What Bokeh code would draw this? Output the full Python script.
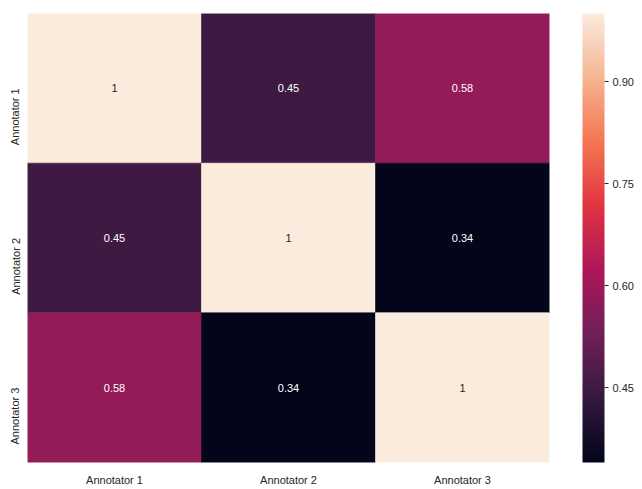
import math
from bokeh.plotting import figure
from bokeh.models import (ColumnDataSource, LinearColorMapper, ColorBar, FixedTicker,
                          PrintfTickFormatter, FactorRange)
from bokeh.core.properties import value
from bokeh.embed import file_html
from bokeh.resources import INLINE

# ---- data ----
annotators = ["Annotator 1", "Annotator 2", "Annotator 3"]
row_1 = [1.00, 0.45, 0.58]
row_2 = [0.45, 1.00, 0.34]
row_3 = [0.58, 0.34, 1.00]
matrix = [row_1, row_2, row_3]
cbar_ticks = [0.45, 0.60, 0.75, 0.90]

# ---- rocket colormap (seaborn) anchors ----
rocket_anchors = ["#03051a", "#35193e", "#701f57", "#ad1759", "#e13342",
                  "#f37651", "#f6b48f", "#faebdd"]


def hex2rgb(h):
    h = h.lstrip("#")
    return [int(h[i:i + 2], 16) for i in (0, 2, 4)]


def build_palette(anchors, n=256):
    rgbs = [hex2rgb(a) for a in anchors]
    k = len(rgbs) - 1
    out = []
    for i in range(n):
        t = i / (n - 1) * k
        j = min(int(t), k - 1)
        f = t - j
        c = [round(rgbs[j][m] + (rgbs[j + 1][m] - rgbs[j][m]) * f) for m in range(3)]
        out.append("#%02x%02x%02x" % tuple(c))
    return out


palette = build_palette(rocket_anchors)
flat = [v for r in matrix for v in r]
vmin, vmax = min(flat), max(flat)
mapper = LinearColorMapper(palette=palette, low=vmin, high=vmax)


def rel_lum(hexcol):
    rgb = [c / 255 for c in hex2rgb(hexcol)]
    rgb = [c / 12.92 if c <= 0.03928 else ((c + 0.055) / 1.055) ** 2.4 for c in rgb]
    return 0.2126 * rgb[0] + 0.7152 * rgb[1] + 0.0722 * rgb[2]


xs, ys, vals, labels, tcolors = [], [], [], [], []
for ri, row in enumerate(matrix):
    for ci, v in enumerate(row):
        xs.append(annotators[ci])
        ys.append(annotators[ri])
        vals.append(v)
        labels.append(format(v, ".2g"))
        idx = int(round((v - vmin) / (vmax - vmin) * (len(palette) - 1)))
        tcolors.append("#262626" if rel_lum(palette[idx]) > 0.408 else "#ffffff")

src = ColumnDataSource(dict(x=xs, y=ys, v=vals, label=labels, tcolor=tcolors))

FONT = "Liberation Sans"
TXT = "#262626"

p = figure(x_range=FactorRange(*annotators),
           y_range=FactorRange(*list(reversed(annotators))),
           frame_width=522, frame_height=449,
           min_border_left=19, min_border_top=13, min_border_right=86, min_border_bottom=0,
           output_backend="svg", toolbar_location=None)

cmap_field = {"field": "v", "transform": mapper}
p.rect(x="x", y="y", width=1, height=1, source=src,
       fill_color=cmap_field, line_color=cmap_field, line_width=0.6)
p.text(x="x", y="y", text="label", source=src, text_align="center",
       text_baseline="middle", text_color="tcolor",
       text_font=value(FONT), text_font_size="11px")

p.grid.visible = False
p.outline_line_color = None
for ax in (p.xaxis, p.yaxis):
    ax.axis_line_color = None
    ax.major_tick_line_color = None
    ax.minor_tick_line_color = None
    ax.major_label_text_font = FONT
    ax.major_label_text_font_size = "11px"
    ax.major_label_text_color = TXT
p.xaxis.major_label_standoff = 5
p.yaxis.major_label_standoff = 6
p.yaxis.major_label_orientation = math.pi / 2

cb = ColorBar(color_mapper=mapper, ticker=FixedTicker(ticks=cbar_ticks),
              formatter=PrintfTickFormatter(format="%.2f"),
              width=22, padding=0, location=(33, 0),
              major_tick_out=4, major_tick_in=0, major_tick_line_color=TXT,
              minor_tick_line_color=None,
              label_standoff=4, major_label_text_font=FONT,
              major_label_text_font_size="11px", major_label_text_color=TXT,
              bar_line_color=None, border_line_color=None, background_fill_alpha=0)
p.add_layout(cb, "right")

open("out.html", "w").write(file_html(p, INLINE))
